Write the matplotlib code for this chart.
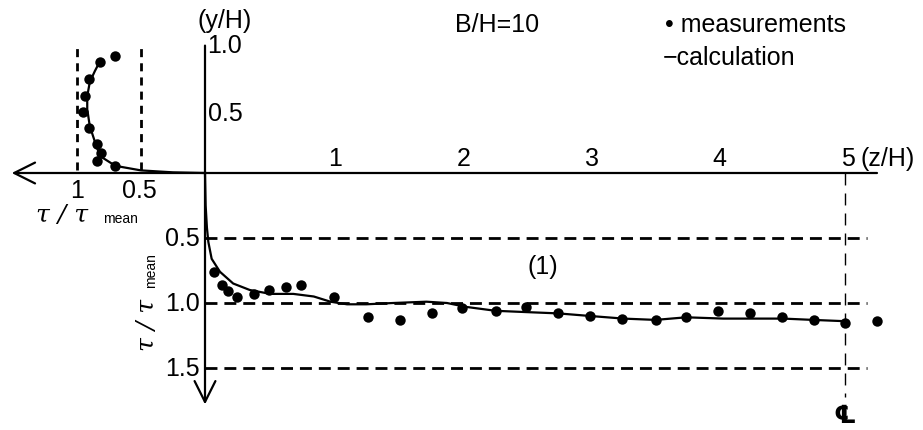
"""
Wall shear stress distribution, B/H=10 (measurements vs calculation)
"""
import matplotlib

matplotlib.use("Agg")
import matplotlib.pyplot as plt

# side wall: tau/tau_mean along y/H
side_meas_tau = [0.70, 0.82, 0.91, 0.94, 0.95, 0.91, 0.84, 0.81, 0.84, 0.70]
side_meas_yh = [0.90, 0.855, 0.72, 0.59, 0.47, 0.35, 0.22, 0.155, 0.09, 0.055]
side_calc_tau = [0.0, 0.25, 0.50, 0.70, 0.82, 0.86, 0.90, 0.92, 0.92, 0.90, 0.86, 0.82]
side_calc_yh = [0.0, 0.005, 0.02, 0.055, 0.13, 0.24, 0.36, 0.49, 0.59, 0.70, 0.785, 0.86]

# bed: tau/tau_mean along z/H
bed_meas_z = [0.073, 0.13, 0.18, 0.25, 0.38, 0.50, 0.63, 0.75, 1.01, 1.27, 1.52, 1.77, 2.01,
              2.27, 2.51, 2.76, 3.01, 3.26, 3.52, 3.76, 4.01, 4.26, 4.51, 4.76, 5.0, 5.25]
bed_meas_tau = [0.76, 0.86, 0.91, 0.95, 0.93, 0.90, 0.88, 0.86, 0.95, 1.11, 1.13, 1.08, 1.04,
                1.06, 1.03, 1.08, 1.10, 1.12, 1.13, 1.11, 1.06, 1.08, 1.11, 1.13, 1.15, 1.14]
bed_calc_z = [0.0, 0.005, 0.015, 0.026, 0.052, 0.117, 0.22, 0.35, 0.51, 0.69, 0.85, 0.98, 1.11,
              1.26, 1.47, 1.73, 1.89, 2.04, 2.27, 2.51, 2.76, 3.01, 3.27, 3.52, 3.76, 4.05,
              4.52, 4.75, 5.0]
bed_calc_tau = [0.0, 0.25, 0.42, 0.53, 0.66, 0.76, 0.85, 0.90, 0.93, 0.93, 0.95, 0.99, 1.01,
                1.01, 1.00, 0.99, 1.00, 1.03, 1.06, 1.07, 1.08, 1.10, 1.12, 1.13, 1.11, 1.12,
                1.12, 1.13, 1.14]

z_ticks = [1, 2, 3, 4, 5]
tau_levels = [0.5, 1.0, 1.5]
side_levels = [1.0, 0.5]

W, H = 923, 431
fig = plt.figure(figsize=(W / 100, H / 100), dpi=100)
ax = fig.add_axes([0, 0, 1, 1])
# origin of both panels at pixel (205, 174); 128 px per unit across, 130 px per unit down
ax.set_xlim(-205 / 128, (W - 205) / 128)
ax.set_ylim(-(H - 174) / 130, 174 / 130)
ax.axis("off")

font = ["Liberation Sans", "DejaVu Sans"]
fs = 18
k = "black"

# axes with arrows
ax.annotate("", xy=(-1.51, 0), xytext=(5.25, 0),
            arrowprops=dict(arrowstyle="->,head_length=0.6,head_width=0.3",
                            lw=1.6, color=k, mutation_scale=25, shrinkA=0, shrinkB=0))
ax.annotate("", xy=(0, -1.78), xytext=(0, 0.98),
            arrowprops=dict(arrowstyle="->,head_length=0.6,head_width=0.3",
                            lw=1.6, color=k, mutation_scale=25, shrinkA=0, shrinkB=0))

# dashed reference lines
for lv in tau_levels:
    ax.plot([0.0, 5.17], [-lv, -lv], color=k, lw=2, ls=(0, (4.3, 2.5)))
for lv in side_levels:
    ax.plot([-lv, -lv], [0.02, 0.98], color=k, lw=2, ls=(0, (2.9, 2.2)))
ax.plot([5.0, 5.0], [0, -1.72], color=k, lw=1, ls=(0, (8.6, 5.8)))

# calculation curves
ax.plot([-t for t in side_calc_tau], side_calc_yh, color=k, lw=1.6)
ax.plot(bed_calc_z, [-t for t in bed_calc_tau], color=k, lw=1.6)

# measurements
ax.plot([-t for t in side_meas_tau], side_meas_yh, "o", color=k, ms=7.5, mew=0)
ax.plot(bed_meas_z, [-t for t in bed_meas_tau], "o", color=k, ms=7.5, mew=0)

# tick labels
for zt in z_ticks:
    ax.text(zt + 0.02, 0.02, str(zt), ha="center", va="bottom", fontsize=fs, family=font)
ax.text(5.12, 0.02, "(z/H)", ha="left", va="bottom", fontsize=fs, family=font)
for lv in tau_levels:
    ax.text(-0.04, -lv, f"{lv:.1f}", ha="right", va="center", fontsize=fs, family=font)
ax.text(0.02, 0.985, "1.0", ha="left", va="center", fontsize=fs, family=font)
ax.text(0.02, 0.46, "0.5", ha="left", va="center", fontsize=fs, family=font)
ax.text(-0.06, 1.18, "(y/H)", ha="left", va="center", fontsize=fs, family=font)
ax.text(-1.0, -0.13, "1", ha="center", va="center", fontsize=fs, family=font)
ax.text(-0.51, -0.13, "0.5", ha="center", va="center", fontsize=fs, family=font)

# axis titles
ax.text(-1.32, -0.32, "τ / τ", ha="left", va="center", fontsize=fs,
        family="DejaVu Serif", style="italic")
ax.text(-0.80, -0.35, "mean", ha="left", va="center", fontsize=10, family=font)
ax.text(-0.45, -1.16, "τ / τ", ha="center", va="center", fontsize=fs, rotation=90,
        family="DejaVu Serif", style="italic")
ax.text(-0.42, -0.74, "mean", ha="center", va="center", fontsize=10, rotation=90,
        family=font)

# annotations
ax.text(2.64, -0.715, "(1)", ha="center", va="center", fontsize=fs, family=font)
ax.text(5.0, -1.86, "℄", ha="center", va="center", fontsize=fs, fontweight="bold",
        family=["DejaVu Sans", "Noto Sans"])
ax.text(455 / W, 1 - 25 / H, "B/H=10", transform=ax.transAxes, ha="left", va="center",
        fontsize=fs, family=font)
ax.text(665 / W, 1 - 25 / H, "• measurements", transform=ax.transAxes, ha="left",
        va="center", fontsize=fs, family=font)
ax.text(663 / W, 1 - 58 / H, "−calculation", transform=ax.transAxes, ha="left",
        va="center", fontsize=fs, family=font)

fig.savefig("out.png", dpi=100)
